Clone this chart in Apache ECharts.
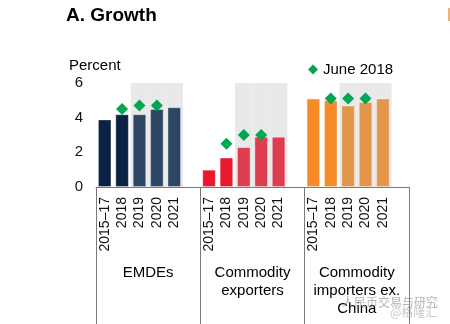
<!DOCTYPE html>
<html>
<head>
<meta charset="utf-8">
<title>A. Growth</title>
<script src="https://cdn.jsdelivr.net/npm/echarts@6/dist/echarts.min.js"></script>
<style>
  html, body { margin: 0; padding: 0; background: #fff; }
  #chart { width: 450px; height: 324px; }
</style>
</head>
<body>
<div id="chart"></div>
<script>
// Years shown within each country group
const years = ['2015\u201317', '2018', '2019', '2020', '2021'];
// Years that are forecasts (shaded band)
const forecastYears = ['2019', '2020', '2021'];
// Country groups
const groups = ['EMDEs', 'Commodity\nexporters', 'Commodity\nimporters ex.\nChina'];

// GDP growth, percent
const emdes = [3.9, 4.2, 4.2, 4.5, 4.6];
const exporters = [1.0, 1.7, 2.3, 2.9, 2.9];
const importers = [5.1, 5.0, 4.7, 4.9, 5.1];

// June 2018 forecasts
const juneEmdes = [null, 4.5, 4.7, 4.7, null];
const juneExporters = [null, 2.5, 3.0, 3.0, null];
const juneImporters = [null, 5.1, 5.1, 5.1, null];

// Y axis ticks
const yTicks = [0, 2, 4, 6];

// Colours per group: [actual, forecast]
const groupColors = [
  ['#0b2343', '#2c4664'],
  ['#e8192d', '#dc3e50'],
  ['#f68b27', '#e3964b']
];

const FONT = '"Liberation Sans", Arial, Helvetica, sans-serif';

const groupValues = [emdes, exporters, importers];
const groupJune = [juneEmdes, juneExporters, juneImporters];
const groupKeys = ['EMDEs', 'Exporters', 'Importers'];

// One slot per year plus an empty slot after each group
const slots = [];
const barData = [];
const shadeData = [];
const juneData = [];
groupKeys.forEach(function (key, g) {
  years.forEach(function (y, i) {
    const idx = slots.length;
    slots.push(key + '|' + y);
    const isForecast = forecastYears.indexOf(y) >= 0;
    const color = groupColors[g][isForecast ? 1 : 0];
    barData.push({
      value: groupValues[g][i],
      itemStyle: { color: color, borderColor: 'rgba(255,255,255,0.35)', borderWidth: 1 }
    });
    shadeData.push(isForecast ? yTicks[yTicks.length - 1] : '-');
    if (groupJune[g][i] != null) juneData.push([idx, groupJune[g][i]]);
  });
  slots.push(key + '|');
  barData.push('-');
  shadeData.push('-');
});

const slotsPerGroup = years.length + 1;

const chart = echarts.init(document.getElementById('chart'), null, { renderer: 'canvas' });

chart.setOption({
  animation: false,
  backgroundColor: '#fff',
  textStyle: { fontFamily: FONT },
  title: [
    {
      text: 'A. Growth', left: 66, top: 6, padding: 0,
      textStyle: { fontFamily: FONT, fontSize: 19, fontWeight: 'bold', color: '#000' }
    },
    {
      text: 'Percent', left: 69, top: 58, padding: 0,
      textStyle: { fontFamily: FONT, fontSize: 15, fontWeight: 'normal', color: '#000' }
    }
  ],
  legend: {
    data: [{ name: 'June 2018', icon: 'diamond' }],
    left: 303, top: 57,
    itemWidth: 10, itemHeight: 10,
    textStyle: { fontFamily: FONT, fontSize: 15, color: '#000' }
  },
  grid: { left: 96, right: 41, top: 83, bottom: 137 },
  xAxis: [
    {
      type: 'category',
      position: 'bottom',
      data: slots,
      axisLine: { show: true, lineStyle: { color: '#7a7a7a', width: 1 } },
      axisTick: {
        show: true,
        alignWithLabel: false,
        inside: false,
        length: 140,
        interval: function (index) { return index % slotsPerGroup === 0; },
        lineStyle: { color: '#7a7a7a', width: 1 }
      },
      axisLabel: {
        interval: 0,
        rotate: 90,
        margin: 10,
        fontFamily: FONT,
        fontSize: 14,
        color: '#111',
        formatter: function (v) { return v.split('|')[1]; }
      },
      splitLine: { show: false }
    },
    {
      type: 'category',
      position: 'bottom',
      data: slots,
      show: false
    },
    {
      type: 'category',
      position: 'bottom',
      data: groups,
      axisLine: { show: false },
      axisTick: { show: false },
      axisLabel: {
        interval: 0,
        margin: 77,
        fontFamily: FONT,
        fontSize: 15,
        lineHeight: 18,
        color: '#000'
      },
      splitLine: { show: false }
    }
  ],
  yAxis: {
    type: 'value',
    min: 0, max: 6, interval: 2,
    axisLine: { show: false },
    axisTick: { show: false },
    splitLine: { show: false },
    axisLabel: { margin: 13, fontFamily: FONT, fontSize: 15, color: '#111' }
  },
  series: [
    {
      name: 'forecast band',
      type: 'bar',
      xAxisIndex: 1,
      data: shadeData,
      barWidth: '100%',
      silent: true,
      z: 1,
      itemStyle: { color: '#e9e9e9' }
    },
    {
      name: 'Growth',
      type: 'bar',
      xAxisIndex: 0,
      data: barData,
      barWidth: '78%',
      z: 2
    },
    {
      name: 'June 2018',
      type: 'scatter',
      xAxisIndex: 0,
      data: juneData,
      symbol: 'diamond',
      symbolSize: 12,
      z: 3,
      itemStyle: { color: '#00a650', opacity: 1 }
    }
  ],
  graphic: [
    {
      type: 'rect', silent: true,
      shape: { x: 448, y: 8, width: 2, height: 13 },
      style: { fill: '#e9b47a' }
    },
    {
      type: 'text', silent: true, left: 342, top: 296, z: 100,
      style: { text: '人民币交易与研究', font: '12px "Noto Sans CJK SC"', fill: 'rgba(120,120,120,0.55)' }
    },
    {
      type: 'text', silent: true, left: 390, top: 306, z: 100,
      style: { text: '@格隆汇', font: '12px "Noto Sans CJK SC"', fill: 'rgba(150,150,150,0.5)' }
    }
  ]
});
</script>
</body>
</html>
